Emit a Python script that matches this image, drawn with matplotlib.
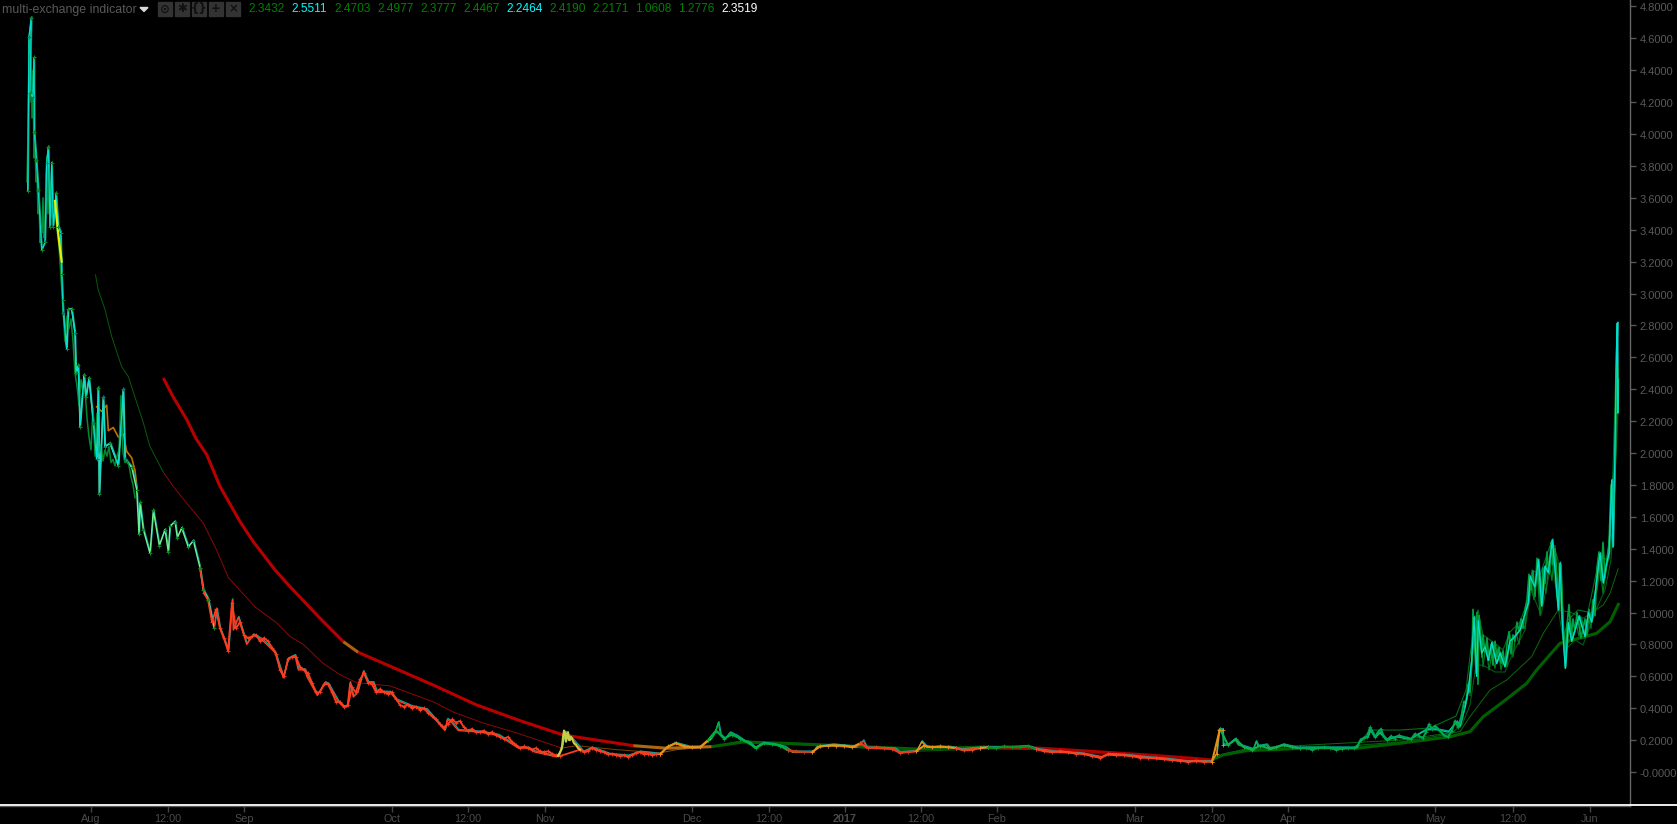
import matplotlib
matplotlib.use("Agg")
import matplotlib.pyplot as plt
from matplotlib.lines import Line2D
from matplotlib.patches import Rectangle, Polygon
from matplotlib.transforms import offset_copy, ScaledTranslation
import numpy as np

plt.rcParams['font.family'] = ['Liberation Sans', 'DejaVu Sans']

W, H = 1677, 824

# ---------------- data (bar position on the time axis, price value) ----------------
price_x = [27.7,29,31.3,30,32.7,34,34.3,36.3,38.3,41.7,45,46.7,48.3,50,51.7,53.3,56,58.3,60.7,61.7,62.7,
    63.3,66.7,68.3,71.7,75,76,78.3,80,84,86,89,93.3,96.7,98.3,99.3,103.3,105,110,118.3,123.3,125,131.7,136.7,
    139,140,143.3,150,153.3,159.3,165,168.3,170,175,177.3,181.7,188.3,193.3,200,203.3,208.3,214,216.7,220,
    228.3,232.3,233.3,238.3,246.7,253.3,261.7,275,283.3,288.3,295,298.3,305,306.7,317.3,325,328.3,338.3,343.3,
    347.3,350,353.3,357.7,363.3,368.3,373.3,376.7,390,396.7,411.7,426.7,445,447.3,451.7,458.3,480,498.3,518.3,
    528.3,535,556.7,561.7,565,571.7,583.3,591.7,610,628.3,640,660,665,675,690,700,711.7,715,718.3,720.7,725,
    730,736.7,745,750,755,763.3,775,785,791.7,813.3,816.7,833.3,856.7,863.3,866.7,895,900,916.7,921.7,926.7,
    950,961.7,980,1013,1028,1038,1055,1080,1101.7,1108.3,1123.3,1146.7,1166.7,1186.7,1211.7,1216.7,1219.3,
    1222.7,1223.3,1228.3,1235,1238.3,1253.3,1256,1258.3,1266.7,1270,1283.3,1296.7,1313,1356.7,1360,1368,
    1370.7,1375,1380,1386.7,1396.7,1410,1426.7,1436.7,1448.3,1456.7,1460,1465,1468.3,1471.7,1474,1476.7,
    1478.3,1481.7,1485,1488.3,1491.7,1496.7,1500,1505,1510,1515,1520,1528.3,1530,1535,1538.3,1541.7,1545,
    1548.3,1552.3,1555,1558.3,1560,1562.7,1565.3,1568.3,1571.7,1575,1579,1585,1588.3,1591.7,1596.7,1600,
    1603.3,1606.7,1609,1611.7,1613,1615,1616.5,1617.3,1617.7,1618]
price_y = [3.64,4.61,4.73,4.26,4.23,4.48,4.01,3.84,3.65,3.27,3.32,3.82,3.92,3.42,3.82,3.42,3.63,3.42,3.38,3.12,2.96,
    2.88,2.65,2.90,2.90,2.75,2.50,2.55,2.16,2.49,2.35,2.47,2.19,1.96,2.41,1.74,2.35,2.04,2.06,1.92,2.40,1.96,1.91,1.77,
    1.49,1.69,1.52,1.37,1.64,1.42,1.52,1.38,1.54,1.57,1.47,1.53,1.41,1.45,1.28,1.14,1.08,0.90,1.02,0.90,
    0.76,1.08,0.89,0.97,0.80,0.86,0.83,0.75,0.59,0.71,0.73,0.64,0.64,0.60,0.48,0.56,0.55,0.44,0.41,
    0.41,0.56,0.47,0.50,0.63,0.56,0.56,0.50,0.50,0.45,0.41,0.39,0.26,0.33,0.31,0.26,0.25,0.23,0.15,
    0.15,0.125,0.095,0.14,0.25,0.21,0.125,0.15,0.11,0.10,0.125,0.11,0.145,0.18,0.155,0.155,0.21,0.245,0.31,0.23,0.205,
    0.245,0.225,0.19,0.18,0.15,0.18,0.17,0.155,0.125,0.125,0.155,0.17,0.155,0.195,0.15,0.145,0.12,0.13,0.19,0.155,
    0.155,0.14,0.15,0.155,0.16,0.14,0.125,0.115,0.09,0.11,0.105,0.09,0.08,0.065,0.065,0.115,0.265,
    0.265,0.17,0.17,0.205,0.17,0.14,0.19,0.16,0.17,0.14,0.17,0.15,0.15,0.15,0.20,0.22,
    0.265,0.215,0.245,0.20,0.22,0.205,0.265,0.265,0.25,0.315,0.285,0.41,0.515,0.70,0.97,0.60,
    0.95,0.745,0.785,0.70,0.81,0.68,0.745,0.66,0.82,0.85,0.89,1.06,1.225,1.16,1.33,1.04,1.29,
    1.25,1.455,1.27,1.015,1.31,0.89,0.65,0.935,0.82,0.89,0.975,0.85,1.0,0.94,1.205,1.37,
    1.185,1.31,1.37,1.83,1.41,2.02,2.645,2.815,2.25,2.46]

# early exchange feed, July to mid August
early_x = [27,28,29,30,31,32,33,34,35,36,37,38,39,40,41,42,43,44,45,46,47,48,49,50,51,52,53,54,55,
    57,59,61,63,65,67,69,71,73,75,77,79,81,83,85,87,89,91,93,95,97,99,101,103,105,107,109,111,113,115,117,119,121,123,125,127,129,131,133,135]
early_y = [3.70,4.00,4.50,4.20,4.65,4.10,4.40,3.85,3.95,3.70,
    3.75,3.50,3.62,3.32,3.40,3.38,3.60,3.35,3.40,3.75,
    3.86,3.50,3.78,3.45,3.70,3.48,3.62,3.50,3.55,3.40,
    3.30,3.10,2.90,2.70,2.86,2.78,2.84,2.70,2.50,2.42,
    2.30,2.46,2.38,2.40,2.22,2.10,2.02,2.28,1.98,2.25,
    2.00,2.05,1.95,2.02,1.98,2.04,1.94,1.96,1.92,1.98,
    2.02,2.36,2.00,1.94,1.95,1.92,1.85,1.80,1.72]

# red phase feed, September to late November
red_x = [200,204,208,212,216,220,224,228,232,236,240,244,248,252,256,260,264,268,272,276,280,284,288,292,296,300,304,308,312,316,320,324,328,332,336,340,344,348,352,356,360,364,368,372,376,380,384,388,392,396,
    400,404,408,412,416,420,424,428,432,436,440,444,448,452,456,460,464,468,472,476,480,484,488,492,496,500,504,508,512,516,520,524,528,532,536,540,544,548,552,556,560,
    580,584,588,592,596,600,604,608,612,616,620,624,628,632,636,640,644,648,652,656,660]
red_y = [1.28,1.12,1.08,.94,1.02,.90,.84,.76,1.06,.90,
    .94,.86,.84,.85,.86,.82,.84,.82,.78,.74,
    .64,.60,.71,.72,.72,.66,.64,.62,.56,.50,
    .50,.55,.55,.50,.44,.44,.41,.42,.53,.50,
    .58,.62,.56,.55,.50,.52,.50,.49,.50,.46,
    .42,.41,.42,.40,.41,.39,.40,.37,.35,.33,
    .30,.28,.30,.33,.31,.32,.28,.26,.27,.25,
    .25,.26,.24,.25,.23,.22,.21,.22,.19,.17,
    .15,.16,.15,.14,.15,.13,.125,.13,.115,.105,
    .10,.14,.125,.13,.15,.14,.13,.125,.11,.115,
    .105,.10,.105,.095,.105,.12,.125,.11,.115,.105,
    .11,.115]

# November spike feed
spike_x = [558,560,562,563,564,565,566,567,568,569,570,571,572,574,576,578,580]
spike_y = [.10,.12,.16,.22,.26,.24,.19,.22,.25,.20,.20,.22,.21,.18,.17,.15,.14]

# flat phase feed, late November to April
flat_x = list(range(660, 1301, 8))
flat_y = [.11,.16,.18,.16,.155,.155,.20,.26,.21,.235,
    .21,.185,.15,.18,.175,.165,.135,.13,.125,.125,
    .16,.165,.165,.165,.155,.18,.15,.155,.15,.145,
    .12,.125,.13,.165,.155,.16,.155,.15,.135,.14,
    .15,.155,.15,.16,.155,.155,.16,.145,.13,.125,
    .13,.125,.115,.115,.10,.09,.11,.105,.105,.10,
    .09,.09,.085,.08,.075,.07,.065,.07,.065,.065,
    .27,.17,.205,.155,.14,.165,.15,.155,.17,.155,
    .15]

# April to May feed
spring_x = [1300,1306,1312,1318,1324,1330,1336,1342,1348,1354,1358,1361,1364,1367,1370,1372,1375,1378,1381,1384,1387,1391,1395,1399,1403,1407,1411,1415,1419,1423,1426,1429,1432,1435,1438,1441,1444,1448,1452,1455,1458,1461,1464]
spring_y = [.15,.15,.14,.15,.155,.15,.14,.145,.15,.15,
    .17,.20,.215,.22,.28,.25,.22,.25,.27,.22,
    .20,.225,.21,.23,.22,.215,.205,.24,.225,.215,
    .25,.30,.27,.29,.27,.25,.23,.22,.26,.32,
    .28,.34,.44]

# late rally feeds
rally_c_x = [1466,1468,1470,1472,1473,1475,1476,1477,1478,1479,1480,1482,1483,1485,1487,1489,1491,1493,1495,1497,1499,1501,1503,1505,1507,1509,1511,1513,1515,1517,1519,1521,1523,1525,1527,1529,1531,1533,1535,1537,1539,1541,1543,1545,1547,1549,1551,1553,1555,1557,1559,1561,1563,1565,1567,1569,1571,1573,1575,1577,1579,1581,1583,1585,1587,1589,1591,1593,1595,1597,1599,1601,1603,1605,1607,1609,1611,1613,1615,1617,1618]
rally_c_y = [0.43,0.55,0.50,0.72,1.02,0.75,0.62,1.0,0.55,0.98,
    0.88,0.72,0.86,0.75,0.84,0.70,0.80,0.67,0.82,0.72,
    0.78,0.68,0.76,0.66,0.80,0.88,0.74,0.86,0.82,0.94,
    0.88,0.96,0.90,1.02,1.08,1.24,1.14,1.26,1.10,1.34,
    1.18,1.05,1.28,1.18,1.38,1.24,1.44,1.30,1.40,1.22,
    1.02,1.30,0.95,0.72,0.92,1.05,0.84,0.96,0.88,1.00,
    0.92,0.84,0.90,0.96,0.86,1.02,0.94,1.08,0.98,1.28,
    1.38,1.20,1.44,1.22,1.34,1.42,1.80,1.55,1.88,2.60,
    2.40]
rally_d_x = [1470,1474,1477,1480,1483,1486,1489,1492,1495,1498,1501,1504,1507,1510,1513,1516,1519,1522,1525,1528,1531,1534,1537,1540,1543,1546,1549,1552,1555,1558,1561,1564,1567,1570,1573,1576,1579,1582,1585,1588,1591,1594,1597,1600,1603,1606,1609,1612,1615,1618]
rally_d_y = [0.48,0.90,0.62,0.95,0.66,0.80,0.64,0.74,0.65,0.78,
    0.64,0.72,0.66,0.86,0.72,0.88,0.80,0.94,0.90,1.10,
    1.20,1.08,1.28,0.98,1.22,1.12,1.32,1.20,1.42,1.05,
    1.24,0.82,0.76,0.98,0.84,0.94,0.85,0.96,0.84,0.98,
    0.90,1.10,1.14,1.30,1.12,1.28,1.34,1.50,2.10,2.55]

# slower exchange feed in August
orange_x = [96.7,101.7,106.7,108.3,113.3,118.3,123.3,126.7,131.7,135,137.3]
orange_y = [2.29,2.26,2.30,2.14,2.16,2.10,2.12,2.01,1.97,1.89,1.77]
yellow_x = [55,58,60,61.7]
yellow_y = [3.58,3.39,3.28,3.20]

# dark green exchange feeds in the late rally
band_a_x = [1360,1370,1400,1430,1456,1466,1472,1475,1478,1483,1490,1497,1503,1510,1520,1528,1532,1540,1552,1558,1563,1568,1578,1588,1600,1607,1610,1613,1617,1618]
band_a_y = [0.19,0.263,0.263,0.276,0.351,0.514,0.828,0.953,1.016,0.859,0.828,0.796,0.765,0.878,0.94,1.078,1.267,1.235,1.455,1.329,0.828,0.953,1.016,1.003,1.36,1.329,1.517,1.893,2.77,2.458]
band_b_x = [1360,1400,1450,1462,1470,1476,1483,1495,1505,1512,1525,1531,1541,1552,1560,1565,1575,1583,1596,1605,1611,1615,1618]
band_b_y = [0.169,0.188,0.238,0.295,0.42,0.67,0.67,0.627,0.627,0.734,0.89,1.141,0.984,1.329,0.953,0.765,0.828,0.796,1.016,1.141,1.329,1.83,2.27]

ma_fast_x = [95.4,98.3,105,111.7,121.7,128.3,135,143.3,150,163.3,173.3,190,203.3,216.7,228.3,255,276.7,290,303.3,323.3,340,356.7,390,433.3,453.3,483.3,516.7,561.7,576.7,616.7,660,676.7,711.7,743,785,863,917,985,1038,1080,1146.7,1193,1211.7,1223,1246.7,1300,1400,1450,1460,1470,1490,1506.7,1531.7,1543.3,1558.3,1570,1583.3,1603.3,1610,1618.3]
ma_fast_y = [3.12,3.02,2.90,2.73,2.54,2.48,2.35,2.19,2.04,1.88,1.79,1.66,1.56,1.39,1.22,1.035,0.935,0.85,0.80,0.68,0.61,0.56,0.54,0.44,0.376,0.307,0.245,0.15,0.165,0.14,0.12,0.14,0.16,0.196,0.175,0.15,0.13,0.145,0.14,0.12,0.095,0.075,0.07,0.113,0.145,0.166,0.20,0.245,0.253,0.347,0.514,0.577,0.723,0.87,1.016,1.003,0.964,1.047,1.12,1.277]

ma_slow_x = [163.3,173.3,186.7,196,206.7,220,240,253.3,275,290,320,343.3,358.3,433.3,476.7,520,563.3,633.3,666.7,711.7,743,785,863,917,985,1038,1080,1146.7,1193,1211.7,1223,1246.7,1280,1310,1356.7,1400,1450,1470,1483.3,1503.3,1526.7,1536.7,1560,1583.3,1596.7,1610,1619]
ma_slow_y = [2.47,2.35,2.21,2.09,1.99,1.79,1.57,1.444,1.267,1.162,0.964,0.817,0.75,0.545,0.42,0.322,0.232,0.165,0.149,0.159,0.188,0.18,0.159,0.144,0.157,0.15,0.134,0.107,0.086,0.075,0.107,0.134,0.142,0.152,0.149,0.18,0.221,0.253,0.347,0.441,0.556,0.64,0.807,0.845,0.87,0.942,1.06]

# header readouts
readout_values = ["2.3432","2.5511","2.4703","2.4977","2.3777","2.4467","2.2464","2.4190","2.2171","1.0608","1.2776","2.3519"]
readout_colors = ["#008000","#00ffff","#008000","#008000","#008000","#008000","#00ffff","#008000","#008000","#008000","#008000","#ffffff"]

# time-axis ticks
tick_pos = [91,168,244,392,468,545,692,769,845,921,997,1135,1212,1288,1435,1513,1589.5]
tick_labels = ["Aug","12:00","Sep","Oct","12:00","Nov","Dec","12:00","2017","12:00","Feb","Mar","12:00","Apr","May","12:00","Jun"]
price_ticks = [round(0.2*i, 1) for i in range(25)]

# regimes: (end position, colour)
core_regimes = [(66,"#00a878"),(85,"#60e0a0"),(125,"#88d090"),(215,"#70f090"),(560,"#ff3c1e"),(572,"#b8d040"),
                (665,"#ff3c1e"),(712,"#e89018"),(790,"#00b040"),(813,"#c84020"),(863,"#e89018"),(917,"#e83c1e"),
                (960,"#e89018"),(982,"#e84a1e"),(993,"#e89018"),(1038,"#109020"),(1212,"#ff4020"),(1222,"#e89018"),
                (1360,"#10b050"),(1700,"#00c880")]
fast_regimes = [(163.3,"#0a5a0a"),(562,"#8c0808"),(665,"#804000"),(712,"#805010"),(790,"#0a6a0a"),(1038,"#0a5a0a"),(1212,"#900000"),(1700,"#0a6a0a")]
slow_regimes = [(358,"#b80000"),(375,"#b06010"),(660,"#b80000"),(712,"#b06810"),(785,"#006000"),(1000,"#006000"),(1212,"#b00000"),(1700,"#006000")]

# ---------------- figure ----------------
fig = plt.figure(figsize=(W/100, H/100), dpi=100, facecolor="black")
ax = fig.add_axes([0, (H-806)/H, 1630/W, 806/H], facecolor="black")
ax.set_xlim(0, 1630)
ax.set_ylim((772-806)/159.5, 772/159.5)

def draw_regimes(xs, ys, regimes, lw, zorder, marker=None, ms=2.5):
    xs, ys = np.asarray(xs), np.asarray(ys)
    start = -1e9
    for end, color in regimes:
        idx = np.where((xs > start) & (xs <= end))[0]
        if len(idx):
            lo = max(idx[0]-1, 0)
            ax.plot(xs[lo:idx[-1]+1], ys[lo:idx[-1]+1], color=color, lw=lw, zorder=zorder,
                    solid_capstyle="butt", solid_joinstyle="round",
                    marker=marker, ms=ms, mew=0.6)
        start = end

px, py = np.array(price_x), np.array(price_y)

draw_regimes(ma_fast_x, ma_fast_y, fast_regimes, 0.7, 2)

ax.plot(orange_x, orange_y, color="#c07000", lw=1.2, zorder=3)

# late-rally dark green feeds
ax.plot(band_a_x, band_a_y, color="#00701c", lw=0.8, zorder=3)
ax.plot(band_b_x, band_b_y, color="#005c14", lw=0.8, zorder=3)
draw_regimes(ma_slow_x, ma_slow_y, slow_regimes, 2.2, 3.5)

# teal feed, just above the core line
up1 = offset_copy(ax.transData, fig=fig, x=0.6, y=1.0, units="dots")
ax.plot(px, py, color="#00a8a8", lw=0.9, zorder=4, transform=up1)

draw_regimes(price_x, price_y, core_regimes, 1.0, 5)
ax.plot(early_x, early_y, color="#008a30", lw=1.1, zorder=5.5)
ax.plot(red_x, red_y, color="#ff3c1e", lw=1.3, zorder=5.5, marker="+", ms=2.4, mew=0.6)
ax.plot(spike_x, spike_y, color="#c8d040", lw=1.5, zorder=5.6)
draw_regimes(flat_x, flat_y, core_regimes, 1.5, 5.5, marker="+", ms=2.4)
ax.plot(spring_x, spring_y, color="#00a850", lw=1.4, zorder=5.5, marker="+", ms=2.5, mew=0.5)
ax.plot(rally_d_x, rally_d_y, color="#007a20", lw=0.9, zorder=4.2)
ax.plot(rally_c_x, rally_c_y, color="#00a040", lw=1.2, zorder=5.6)

# bright cyan feed on the volatile stretches, thin and on top
for lo, hi in [(27, 130), (1465, 1620)]:
    m = (px >= lo) & (px <= hi)
    ax.plot(px[m], py[m], color="#00e0d0", lw=0.8, zorder=5.8)

ax.plot(yellow_x, yellow_y, color="#e8f000", lw=1.6, zorder=6)

# tick crosses of the feeds
early = px < 215
ax.plot(px[early], py[early], ls="", marker="+", ms=3.5, mew=0.7, color="#0a8a20", zorder=7)
mid = (px >= 1212) & (px < 1224)
ax.plot(px[mid], py[mid], ls="", marker="+", ms=3, mew=0.6, color="#e89018", zorder=7)

# axes styling
for s in ("top", "left"):
    ax.spines[s].set_visible(False)
ax.spines["right"].set_color("#666666")
ax.spines["bottom"].set_color("#555555")
ax.spines["right"].set_linewidth(1)
ax.spines["bottom"].set_linewidth(1)

ax.yaxis.tick_right()
ax.set_yticks(price_ticks)
ax.set_yticklabels(["-0.0000" if v == 0 else f"{v:.4f}" for v in price_ticks])
ax.tick_params(axis="y", direction="out", length=4, width=1, color="#555555",
               labelcolor="#595959", labelsize=8, pad=3)
shift_down = ScaledTranslation(0, -1/100, fig.dpi_scale_trans)
for lab in ax.get_yticklabels():
    lab.set_transform(lab.get_transform() + shift_down)
ax.set_xticks(tick_pos)
ax.set_xticklabels(tick_labels)
ax.tick_params(axis="x", direction="out", length=4, width=1, color="#444444",
               labelcolor="#4a4a4a", labelsize=7.8, pad=1.5)
for lab in ax.get_xticklabels():
    if lab.get_text() == "2017":
        lab.set_fontweight("bold")

# white separator line
fig.add_artist(Line2D([0, 1], [(H-804.5)/H]*2, color="white", lw=1.3, transform=fig.transFigure))

# header
def fx(x): return x/W
def fy(y): return (H-y)/H

fig.text(fx(2.5), fy(9.5), "multi-exchange indicator", color="#595959", fontsize=8.9, va="center", ha="left")
fig.add_artist(Polygon([(fx(140), fy(7.5)), (fx(148), fy(7.5)), (fx(144), fy(11.5))], closed=True,
                       color="#d8d8d8", transform=fig.transFigure))
for x0, g in zip([158, 175, 192, 209, 226], ["⊙", "✱", "{}", "+", "×"]):
    fig.add_artist(Rectangle((fx(x0), fy(16)), 14/W, 14/H, color="#333333", transform=fig.transFigure))
    fig.text(fx(x0+7), fy(9), g, color="#101010", fontsize=8.5, ha="center", va="center",
             fontweight="bold", family=["DejaVu Sans"])
for i, (v, c) in enumerate(zip(readout_values, readout_colors)):
    fig.text(fx(248+43*i), fy(9.5), v, color=c, fontsize=8.6, va="center", ha="left")

fig.savefig("out.png", dpi=100, facecolor="black")
